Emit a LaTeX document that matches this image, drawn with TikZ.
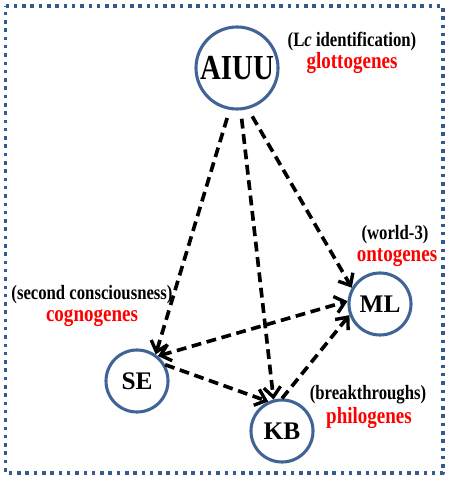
\documentclass[tikz,border=0pt]{standalone}
\usepackage{fontspec}
\setmainfont{Liberation Serif}
\newfontfamily\narrowserif{Liberation Serif}[FakeStretch=0.82]
\usetikzlibrary{arrows.meta}

\definecolor{ringblue}{RGB}{65,100,150}
\definecolor{dotblue}{RGB}{55,90,140}

\begin{document}
\begin{tikzpicture}[line join=round,
    barb/.tip={Straight Barb[length=7pt,width=12pt,line width=2.4pt]},
    ring/.style={circle, draw=ringblue, line width=2.2pt, inner sep=0pt, font=\bfseries\fontsize{18}{18}\selectfont},
    note/.style={font=\narrowserif\bfseries\fontsize{14.5}{14.5}\selectfont},
    gene/.style={text=red, font=\narrowserif\bfseries\fontsize{16.5}{16.5}\selectfont},
    link/.style={dash pattern=on 7pt off 4pt, line width=2.6pt, -barb}]
    % 1. 画布与虚线边框
    \useasboundingbox (0,0) rectangle (11.2,11.925);
    \draw[dotblue, line width=2.5pt, dash pattern=on 2.5pt off 3.4pt] (0.14,11.775) -- (11.08,11.775) -- (11.08,0.1) -- (0.14,0.1) -- cycle;

    % 2. 四个圆形节点
    \node[ring, minimum size=2.05cm, font=\narrowserif\bfseries\fontsize{25}{25}\selectfont] (AIUU) at (5.925,10.225) {AIUU};
    \node[ring, minimum size=1.55cm] (ML) at (9.5,4.325) {ML};
    \node[ring, minimum size=1.55cm] (SE) at (3.425,2.4) {SE};
    \node[ring, minimum size=1.55cm] (KB) at (7.05,1.15) {KB};

    % 3. 虚线箭头
    \draw[link, shorten <=6pt] (AIUU.-100) -- (SE.55);
    \draw[link, shorten <=6pt] (AIUU.-85) -- (KB.105);
    \draw[link, shorten <=6pt] (AIUU.-75) -- (ML.150);
    \draw[link] (SE.30) -- (KB.115);
    \draw[link, barb-barb] (SE.50) -- (ML.175);
    \draw[link] (KB.90) -- (ML.200);

    % 4. 标注文字
    \node[note] (aiuunote) at (8.8,10.875) {(L{\itshape c} identification)};
    \node[gene] (aiuugene) at (8.8,10.35) {glottogenes};
    \node[note] (mlnote) at (9.875,6.05) {(world-3)};
    \node[gene] (mlgene) at (9.925,5.475) {ontogenes};
    \node[note] (senote) at (2.3,4.55) {(second consciousness)};
    \node[gene] (segene) at (2.3,3.975) {cognogenes};
    \node[note] (kbnote) at (9.2,2.05) {(breakthroughs)};
    \node[gene] (kbgene) at (9.225,1.475) {philogenes};

\end{tikzpicture}
\end{document}
